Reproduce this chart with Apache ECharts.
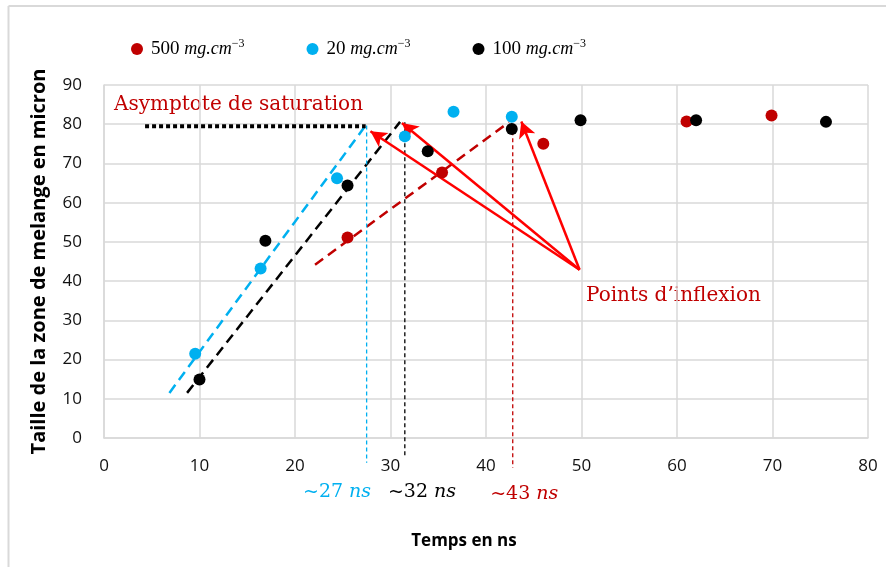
<!DOCTYPE html>
<html><head><meta charset="utf-8">
<script src="https://cdn.jsdelivr.net/npm/echarts@6/dist/echarts.min.js"></script>
<style>html,body{margin:0;padding:0;background:#fff}#c{width:886px;height:567px}</style>
</head><body><div id="c"></div>
<script>
// ---- data ----
var red500 = [[25.5,51.1],[35.4,67.7],[46.0,75.0],[61.0,80.7],[69.9,82.2]];
var blue20 = [[9.55,21.5],[16.4,43.2],[24.4,66.2],[31.5,76.9],[36.6,83.2],[42.7,81.9]];
var black100 = [[10.0,14.9],[16.9,50.3],[25.5,64.4],[33.9,73.1],[42.7,78.8],[49.9,81.0],[62.0,81.0],[75.6,80.6]];
var seriesNames = ['500','20','100'];
var xTicks = {min:0,max:80,interval:10};
var yTicks = {min:0,max:90,interval:10};
// annotation lines (data coordinates)
var blueTrend = [[6.85,11.5],[27.4,79.7]];
var blackTrend = [[8.7,11.5],[31.0,80.6]];
var redTrend = [[22.1,44.2],[42.4,80.5]];
var asymptote = [[4.3,79.5],[27.4,79.5]];
var blueV = [[27.5,79.7],[27.5,-6.3]];
var blackV = [[31.5,80.5],[31.5,-5.0]];
var redV = [[42.8,80.0],[42.8,-7.6]];
var arrowFrom = [49.8,42.9];
var arrowTips = [[27.9,78.2],[31.2,80.3],[43.7,80.7]];
var timeLabels = [{x:24.4,y:-13.7,n:'27',c:'#00b0f0'},{x:33.3,y:-13.7,n:'32',c:'#000000'},{x:44.0,y:-14.2,n:'43',c:'#c00000'}];

var chart = echarts.init(document.getElementById('c'), null, {renderer:'canvas'});
var serifF = 'DejaVu Serif';
var legF = 'Liberation Serif';
function lineS(data, color, width, dash, z){
  return {type:'line', data:data, symbol:'none', clip:false, silent:true, z:z||2,
    lineStyle:{color:color, width:width, type:dash}, legendHoverLink:false};
}
var baseGraphic = [
  {type:'line', shape:{x1:8.5,y1:6,x2:886,y2:6}, style:{stroke:'#d9d9d9', lineWidth:2}, silent:true},
  {type:'line', shape:{x1:8.5,y1:6,x2:8.5,y2:567}, style:{stroke:'#d9d9d9', lineWidth:2}, silent:true},
  {type:'text', left:114, top:95, style:{text:'Asymptote de saturation', fontFamily:serifF, fontSize:20, fill:'#c00000'}},
  {type:'text', left:586, top:286, style:{text:'Points d\u2019inflexion', fontFamily:serifF, fontSize:20, fill:'#c00000'}}
];
var option = {
  animation:false,
  backgroundColor:'#fff',
  grid:{left:104, right:18, top:85, bottom:129},
  legend:{
    data:seriesNames, top:33, left:126, itemGap:62, itemWidth:12, itemHeight:12,
    icon:'circle',
    formatter:function(n){return '{n|'+n+' }{i|mg.cm}{s|\u22123}';},
    textStyle:{fontFamily:legF, fontSize:19, color:'#000',
      rich:{n:{fontFamily:legF,fontSize:19,color:'#000',padding:[0,0,0,3]},
            i:{fontFamily:legF,fontStyle:'italic',fontSize:18,color:'#000'},
            s:{fontFamily:legF,fontSize:12,color:'#000',padding:[0,0,10,0]}}}
  },
  xAxis:{type:'value', min:xTicks.min, max:xTicks.max, interval:xTicks.interval,
    name:'Temps en ns', nameLocation:'middle', nameGap:95,
    nameTextStyle:{fontFamily:'Open Sans', fontWeight:'bold', fontSize:17, color:'#000', padding:[0,44,0,0]},
    axisLine:{lineStyle:{color:'#d9d9d9', width:1.5}}, axisTick:{show:false},
    axisLabel:{fontFamily:'Open Sans', fontSize:17, color:'#111', margin:20},
    splitLine:{lineStyle:{color:'#d9d9d9', width:1.5}}},
  yAxis:{type:'value', min:yTicks.min, max:yTicks.max, interval:yTicks.interval,
    name:'Taille de la zone de melange en micron', nameLocation:'middle', nameGap:55,
    nameTextStyle:{fontFamily:'Open Sans', fontWeight:'bold', fontSize:20, color:'#000'},
    axisLine:{show:true, lineStyle:{color:'#d9d9d9', width:1.5}}, axisTick:{show:false},
    axisLabel:{fontFamily:'Open Sans', fontSize:17, color:'#111', margin:22},
    splitLine:{lineStyle:{color:'#d9d9d9', width:1.5}}},
  graphic:baseGraphic,
  series:[
    lineS(blueTrend,'#00b0f0',2.5,[10,6],2),
    lineS(blackTrend,'#000000',2.5,[10,6],2),
    lineS(redTrend,'#c00000',2.5,[10,6],2),
    lineS(asymptote,'#000000',4,[4,3],2),
    lineS(blueV,'#00b0f0',1.3,[4,3],2),
    lineS(blackV,'#000000',1.3,[4,3],2),
    lineS(redV,'#c00000',1.3,[4,3],2),
    {name:'500', type:'scatter', data:red500, symbolSize:12, itemStyle:{color:'#c00000', opacity:1}, z:5},
    {name:'20', type:'scatter', data:blue20, symbolSize:12, itemStyle:{color:'#00b0f0', opacity:1}, z:5},
    {name:'100', type:'scatter', data:black100, symbolSize:12, itemStyle:{color:'#000000', opacity:1}, z:5},
    {type:'line', data:[], silent:true, z:8,
      markLine:{silent:true, symbol:['none','arrow'], symbolSize:[13,16], animation:false,
        lineStyle:{color:'#ff0000', width:2.5, type:'solid'}, label:{show:false},
        data:arrowTips.map(function(t){return [{coord:arrowFrom},{coord:t}];})}}
  ]
};
chart.setOption(option);
// time labels placed through the axis scales
var extra = timeLabels.map(function(t){
  var p = chart.convertToPixel({gridIndex:0}, [t.x, t.y]);
  return {type:'text', x:p[0], y:p[1], silent:true,
    style:{text:'{a|~'+t.n+' }{b|ns}', align:'center', verticalAlign:'middle',
      rich:{a:{fill:t.c,fontFamily:serifF,fontSize:19},b:{fill:t.c,fontFamily:serifF,fontStyle:'italic',fontSize:19}}}};
});
chart.setOption({graphic:baseGraphic.concat(extra)});
</script></body></html>
